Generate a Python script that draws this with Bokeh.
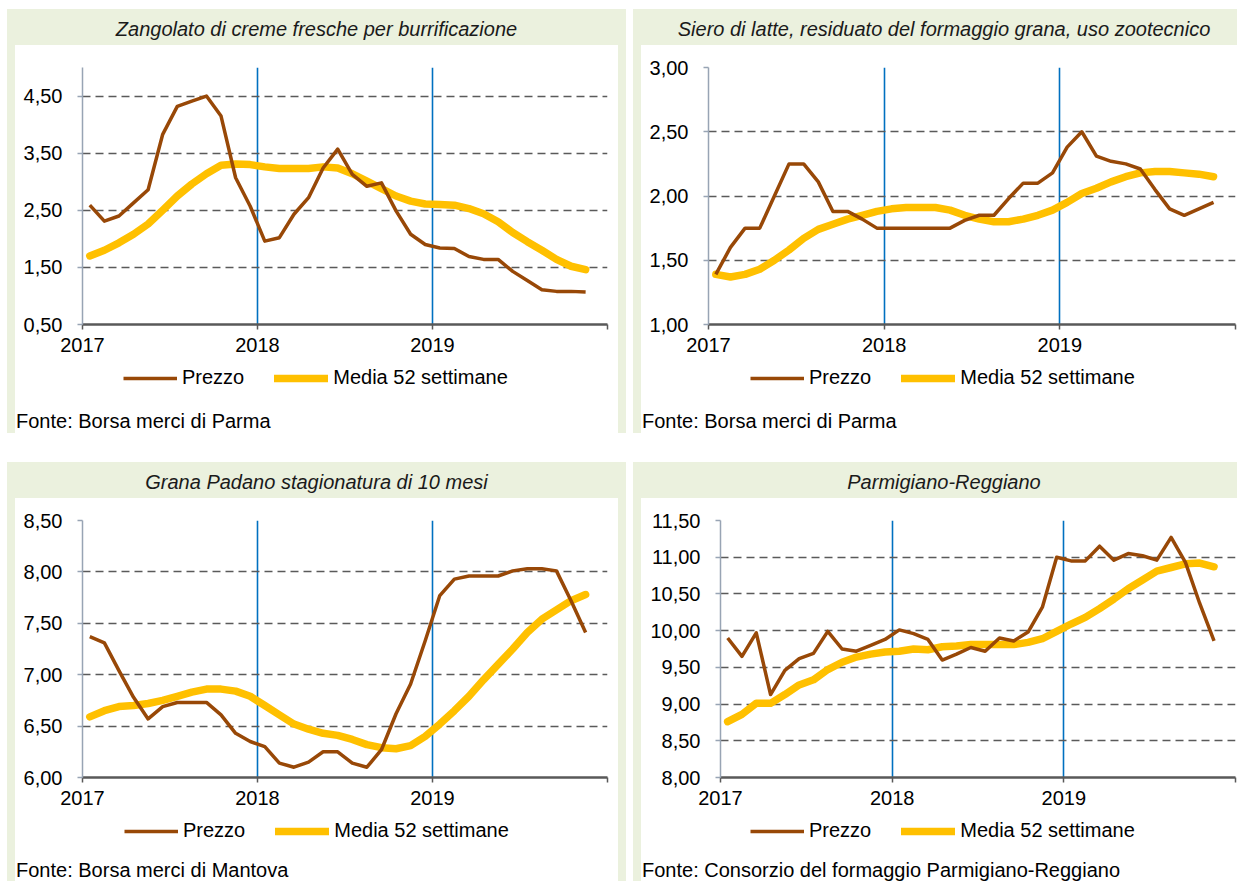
from bokeh.plotting import figure
from bokeh.models import Range1d, FixedTicker, Legend, LegendItem, Div
from bokeh.layouts import row, column
from bokeh.embed import file_html
from bokeh.resources import INLINE

# ---------------- data ----------------
months = [f"{y}-{m:02d}" for y in (2017, 2018, 2019) for m in range(1, 13)][:35]

zangolato_prezzo = [2.59, 2.31, 2.40, 2.63, 2.86, 3.83, 4.32, 4.41, 4.50, 4.15, 3.07, 2.57,
                    1.96, 2.02, 2.43, 2.72, 3.24, 3.57, 3.13, 2.92, 2.98, 2.49, 2.08, 1.90,
                    1.84, 1.83, 1.69, 1.64, 1.64, 1.43, 1.27, 1.11, 1.08, 1.08, 1.07]
zangolato_media = [1.70, 1.80, 1.93, 2.08, 2.26, 2.50, 2.75, 2.96, 3.14, 3.29, 3.31, 3.30,
                   3.26, 3.23, 3.23, 3.23, 3.26, 3.24, 3.14, 3.01, 2.88, 2.75, 2.66, 2.61,
                   2.60, 2.59, 2.53, 2.44, 2.30, 2.11, 1.95, 1.80, 1.64, 1.52, 1.46]

siero_prezzo = [1.39, 1.60, 1.75, 1.75, 2.00, 2.25, 2.25, 2.11, 1.88, 1.88, 1.82, 1.75,
                1.75, 1.75, 1.75, 1.75, 1.75, 1.81, 1.85, 1.85, 1.98, 2.10, 2.10, 2.18,
                2.38, 2.50, 2.31, 2.27, 2.25, 2.21, 2.05, 1.90, 1.85, 1.90, 1.95]
siero_media = [1.39, 1.37, 1.39, 1.43, 1.50, 1.58, 1.67, 1.74, 1.78, 1.82, 1.85, 1.88,
               1.90, 1.91, 1.91, 1.91, 1.89, 1.85, 1.82, 1.80, 1.80, 1.82, 1.85, 1.89,
               1.95, 2.02, 2.06, 2.11, 2.15, 2.18, 2.19, 2.19, 2.18, 2.17, 2.15]

grana_prezzo = [7.37, 7.31, 7.04, 6.78, 6.57, 6.69, 6.73, 6.73, 6.73, 6.61, 6.43, 6.35,
                6.30, 6.14, 6.10, 6.15, 6.25, 6.25, 6.14, 6.10, 6.27, 6.62, 6.91, 7.33,
                7.77, 7.93, 7.96, 7.96, 7.96, 8.01, 8.03, 8.03, 8.01, 7.72, 7.41]
grana_media = [6.59, 6.65, 6.69, 6.70, 6.72, 6.75, 6.79, 6.83, 6.86, 6.86, 6.84, 6.79,
               6.70, 6.61, 6.52, 6.47, 6.43, 6.41, 6.37, 6.32, 6.29, 6.28, 6.31, 6.40,
               6.52, 6.65, 6.79, 6.95, 7.10, 7.25, 7.41, 7.54, 7.63, 7.72, 7.78]

parmigiano_prezzo = [9.90, 9.65, 9.97, 9.13, 9.46, 9.62, 9.69, 9.99, 9.75, 9.72, 9.80, 9.88,
                     10.01, 9.96, 9.88, 9.60, 9.68, 9.77, 9.72, 9.90, 9.86, 9.98, 10.32, 11.00,
                     10.95, 10.95, 11.15, 10.96, 11.05, 11.02, 10.96, 11.27, 10.93, 10.37, 9.86]
parmigiano_media = [8.76, 8.86, 9.01, 9.01, 9.13, 9.26, 9.33, 9.47, 9.57, 9.64, 9.68, 9.71,
                    9.72, 9.75, 9.74, 9.78, 9.79, 9.81, 9.81, 9.81, 9.81, 9.84, 9.89, 9.99,
                    10.09, 10.18, 10.30, 10.43, 10.57, 10.69, 10.81, 10.86, 10.91, 10.92, 10.87]

x_ticks = [2017, 2018, 2019, 2020]
x_tick_labels = ["2017", "2018", "2019", ""]

y_ticks_1 = [0.5, 1.5, 2.5, 3.5, 4.5]
y_labels_1 = ["0,50", "1,50", "2,50", "3,50", "4,50"]
y_ticks_2 = [1.0, 1.5, 2.0, 2.5, 3.0]
y_labels_2 = ["1,00", "1,50", "2,00", "2,50", "3,00"]
y_ticks_3 = [6.0, 6.5, 7.0, 7.5, 8.0, 8.5]
y_labels_3 = ["6,00", "6,50", "7,00", "7,50", "8,00", "8,50"]
y_ticks_4 = [8.0, 8.5, 9.0, 9.5, 10.0, 10.5, 11.0, 11.5]
y_labels_4 = ["8,00", "8,50", "9,00", "9,50", "10,00", "10,50", "11,00", "11,50"]

series_names = ["Prezzo", "Media 52 settimane"]

# ---------------- style ----------------
FONT = "Liberation Sans"
CSS_FONT = "'Liberation Sans', Arial, sans-serif"
GREEN = "#EBF1DE"
BROWN = "#984807"
YELLOW = "#FFC000"
BLUE = "#0070C0"
GRID = "#5A5A5A"


def key(v):
    return int(v) if float(v).is_integer() else float(v)


def strip_bg(right_strip):
    g = f"linear-gradient({GREEN},{GREEN})"
    bg = f"{g} 0 0 / 8px 100% no-repeat, "
    if right_strip:
        bg += f"{g} 100% 0 / 8px 100% no-repeat, "
    return bg + "white"


def make_panel(title, note, prezzo, media, y_ticks, y_labels, y_end, *, width, left, right,
               title_pad, note_h, note_pad, note_lh, legend_x, right_strip):
    # title band (green)
    band = Div(text=(f'<div style="width:{width}px;height:36px;box-sizing:border-box;'
                     f'background:{GREEN};padding:4px 0 0 {title_pad}px;line-height:32px;'
                     f'text-align:center;white-space:nowrap;overflow:hidden;'
                     f'font-family:{CSS_FONT};font-size:20px;font-style:italic;'
                     f'color:#1A1A1A">{title}</div>'),
               width=width, height=36, margin=0)

    # chart
    xs = [int(s[:4]) + (int(s[5:]) - 0.5) / 12 for s in months]
    p = figure(width=width, height=319,
               x_range=Range1d(x_ticks[0], x_ticks[-1]),
               y_range=Range1d(y_ticks[0], y_end),
               output_backend="svg", toolbar_location=None,
               min_border_left=left, min_border_right=right,
               min_border_top=22, min_border_bottom=40)
    p.border_fill_alpha = 0
    p.background_fill_color = "white"
    p.outline_line_color = None
    p.styles = {"background": strip_bg(right_strip)}

    p.xgrid.ticker = FixedTicker(ticks=x_ticks[1:])
    p.xgrid.grid_line_color = BLUE
    p.xgrid.grid_line_width = 1.6
    p.ygrid.ticker = FixedTicker(ticks=y_ticks[1:])
    p.ygrid.grid_line_color = GRID
    p.ygrid.grid_line_width = 1.6
    p.ygrid.grid_line_dash = "8 5"

    xa = p.xaxis[0]
    xa.ticker = FixedTicker(ticks=x_ticks)
    xa.major_label_overrides = {key(t): l for t, l in zip(x_ticks, x_tick_labels)}
    xa.axis_line_color = "#595959"
    xa.axis_line_width = 2.5
    xa.major_tick_line_color = "#595959"
    xa.major_tick_line_width = 1.5
    xa.major_tick_out = 5
    xa.major_tick_in = 0
    xa.minor_tick_line_color = None
    xa.major_label_standoff = 8
    xa.major_label_text_font = FONT
    xa.major_label_text_font_size = "20px"
    xa.major_label_text_color = "black"

    ya = p.yaxis[0]
    ya.ticker = FixedTicker(ticks=y_ticks)
    ya.major_label_overrides = {key(t): l for t, l in zip(y_ticks, y_labels)}
    ya.axis_line_color = "#98A4B4"
    ya.axis_line_width = 1.5
    ya.major_tick_line_color = "#98A4B4"
    ya.major_tick_line_width = 1.5
    ya.major_tick_out = 5
    ya.major_tick_in = 0
    ya.minor_tick_line_color = None
    ya.major_label_standoff = 15
    ya.major_label_text_font = FONT
    ya.major_label_text_font_size = "20px"
    ya.major_label_text_color = "black"

    p.line(xs, media, line_color=YELLOW, line_width=7.5, line_cap="round", line_join="round")
    p.line(xs, prezzo, line_color=BROWN, line_width=3.5, line_join="round")

    # legend strip
    foot = figure(width=width, height=30, x_range=Range1d(0, 1), y_range=Range1d(0, 1),
                  output_backend="svg", toolbar_location=None,
                  x_axis_location=None, y_axis_location=None, min_border=0)
    foot.min_border_left = foot.min_border_right = 0
    foot.min_border_top = foot.min_border_bottom = 0
    foot.border_fill_alpha = 0
    foot.background_fill_alpha = 0
    foot.outline_line_color = None
    foot.grid.visible = False
    foot.styles = {"background": strip_bg(right_strip)}
    nan = float("nan")
    k_prezzo = foot.line(x=[nan, nan], y=[nan, nan], line_color=BROWN, line_width=3.5)
    k_media = foot.line(x=[nan, nan], y=[nan, nan], line_color=YELLOW, line_width=7.5,
                        line_cap="round")
    legend = Legend(items=[LegendItem(label=series_names[0], renderers=[k_prezzo]),
                           LegendItem(label=series_names[1], renderers=[k_media])],
                    orientation="horizontal", location=(legend_x - left, 5),
                    glyph_width=54, glyph_height=20, label_height=20,
                    label_standoff=5, spacing=30, padding=0, margin=0,
                    border_line_color=None, background_fill_alpha=0,
                    label_text_font=FONT, label_text_font_size="20px",
                    label_text_color="black")
    foot.add_layout(legend)

    # source note
    note_div = Div(text=(f'<div style="width:{width}px;height:{note_h}px;box-sizing:border-box;'
                         f'background:{strip_bg(right_strip)};padding:{note_pad}px 0 0 9px;'
                         f'line-height:{note_lh}px;white-space:nowrap;overflow:hidden;'
                         f'font-family:{CSS_FONT};font-size:20px;color:black">{note}</div>'),
                   width=width, height=note_h, margin=0)

    return column(band, p, foot, note_div, spacing=0)


p1 = make_panel("Zangolato di creme fresche per burrificazione", "Fonte: Borsa merci di Parma",
                zangolato_prezzo, zangolato_media, y_ticks_1, y_labels_1, 5.0,
                width=619, left=75, right=19, title_pad=0, note_h=39, note_pad=15, note_lh=24,
                legend_x=116, right_strip=True)
p2 = make_panel("Siero di latte, residuato del formaggio grana, uso zootecnico",
                "Fonte: Borsa merci di Parma",
                siero_prezzo, siero_media, y_ticks_2, y_labels_2, 3.0,
                width=604, left=75, right=2, title_pad=18, note_h=39, note_pad=15, note_lh=24,
                legend_x=117, right_strip=False)
p3 = make_panel("Grana Padano stagionatura di 10 mesi", "Fonte: Borsa merci di Mantova",
                grana_prezzo, grana_media, y_ticks_3, y_labels_3, 8.5,
                width=619, left=75, right=19, title_pad=0, note_h=34, note_pad=12, note_lh=22,
                legend_x=117, right_strip=True)
p4 = make_panel("Parmigiano-Reggiano", "Fonte: Consorzio del formaggio Parmigiano-Reggiano",
                parmigiano_prezzo, parmigiano_media, y_ticks_4, y_labels_4, 11.5,
                width=604, left=87, right=2, title_pad=18, note_h=34, note_pad=12, note_lh=22,
                legend_x=117, right_strip=False)

layout = column(row(p1, p2, spacing=7), row(p3, p4, spacing=7), spacing=29,
                margin=(9, 0, 0, 7))

open("out.html", "w").write(file_html(layout, INLINE, title="Prezzi lattiero-caseari"))
